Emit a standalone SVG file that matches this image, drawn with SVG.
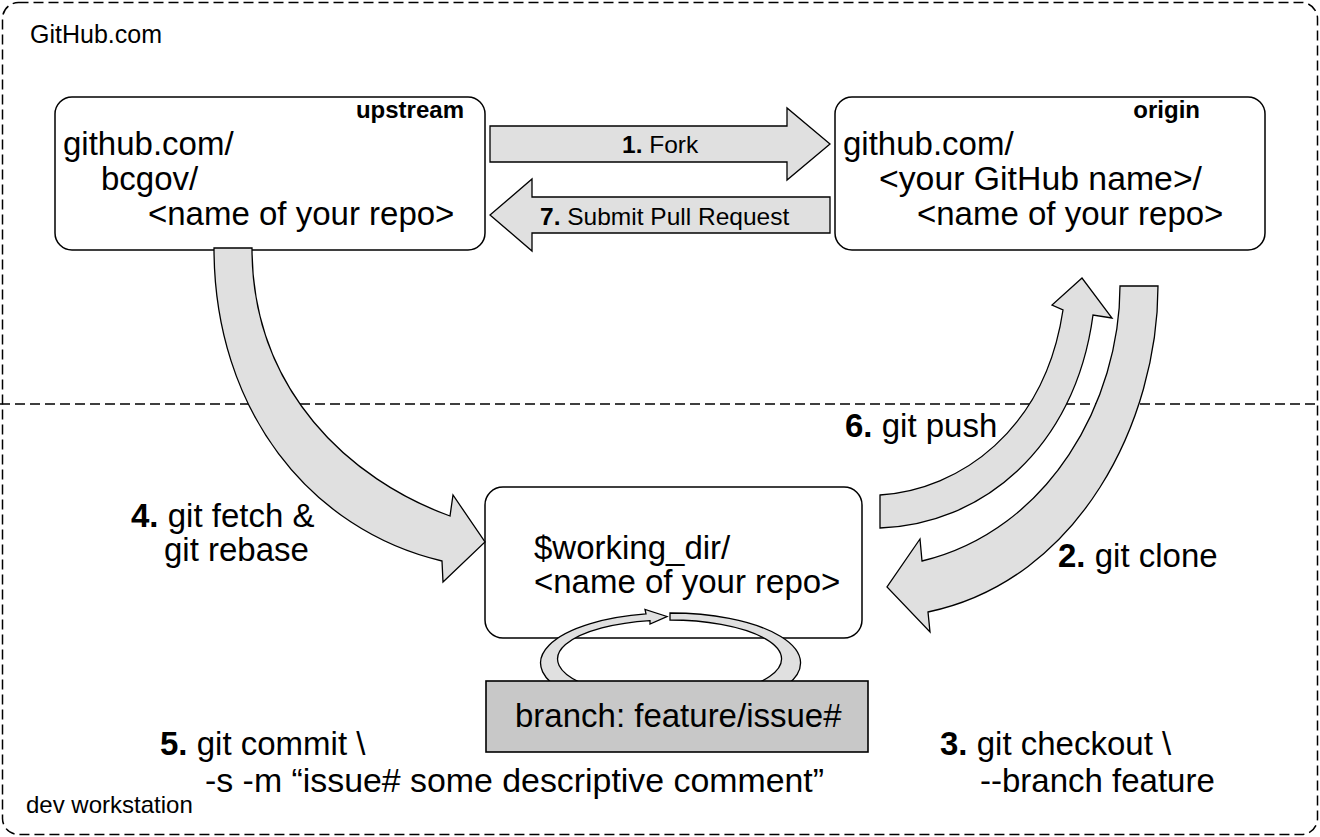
<svg xmlns="http://www.w3.org/2000/svg" width="1320" height="837" viewBox="0 0 1320 837">
<style>
text{font-family:"Liberation Sans",Arial,sans-serif;fill:#000}
.big{font-size:33px}
.lbl{font-size:24.5px}
.tag{font-size:24px;font-weight:bold}
.b{font-weight:bold}
.box{fill:#fff;stroke:#000;stroke-width:1.5}
.arr{fill:#e0e0e0;stroke:#000;stroke-width:1.3;stroke-linejoin:miter}
.dash{fill:none;stroke:#000;stroke-width:1.5;stroke-dasharray:10 5}
</style>
<rect width="1320" height="837" fill="#fff"/>
<g id="regions">
<rect class="dash" x="2.5" y="2.5" width="1315" height="832" rx="16"/>
<line class="dash" x1="0" y1="404" x2="1320" y2="404"/>
<text x="30" y="43" style="font-size:25px">GitHub.com</text>
<text x="26" y="813" style="font-size:24px">dev workstation</text>
</g>
<g id="upstream">
<rect class="box" x="55" y="97" width="430" height="153" rx="17"/>
<text class="tag" x="464" y="118" text-anchor="end">upstream</text>
<text class="big" x="63" y="155">github.com/</text>
<text class="big" x="101" y="190">bcgov/</text>
<text class="big" x="148" y="225">&lt;name of your repo&gt;</text>
</g>
<g id="origin">
<rect class="box" x="835" y="97" width="430" height="153" rx="17"/>
<text class="tag" x="1200" y="118" text-anchor="end">origin</text>
<text class="big" x="843" y="155">github.com/</text>
<text class="big" x="879" y="190" textLength="323" lengthAdjust="spacingAndGlyphs">&lt;your GitHub name&gt;/</text>
<text class="big" x="917" y="225">&lt;name of your repo&gt;</text>
</g>
<g id="working-dir">
<rect class="box" x="485" y="487" width="377" height="151" rx="18"/>
<text class="big" x="534" y="559">$working_dir/</text>
<text class="big" x="534" y="593">&lt;name of your repo&gt;</text>
</g>
<g id="connectors">
<path id="fork" class="arr" d="M490,126 L787,126 L787,108 L830,144 L787,180 L787,162 L490,162 Z"/>
<path id="pull-request" class="arr" d="M830,197 L532,197 L532,179 L490,215 L532,251 L532,233 L830,233 Z"/>
<path id="fetch-rebase" class="arr" d="M214,248 L252,248 C252,390 350,480 450,516 L453,495 L485,542 L443,582 L442,561 C310,530 214,410 214,248 Z"/>
<path id="push" class="arr" d="M880,495 C960,490 1045,430 1063,310 L1052,305 L1082,278 L1112,318 L1093,315 C1075,450 980,525 880,528 Z"/>
<path id="clone" class="arr" d="M1120,286 L1158,286 C1158,420 1080,580 928,612 L930,632 L887,587 L920,539 L922,561 C1050,530 1120,400 1120,286 Z"/>
<path id="commit-loop" class="arr" d="M670,613 A130,50 0 1 1 646,613.9 L645,609.5 L667,616.5 L650,624 L650,620.6 A112,39 0 1 0 670,620 Z"/>
</g>
<g id="branch">
<rect x="486" y="681" width="382" height="71" fill="#c8c8c8" stroke="#000" stroke-width="1.6"/>
<text class="big" x="515" y="727">branch: feature/issue#</text>
</g>
<g id="labels">
<text class="lbl" x="622" y="153"><tspan class="b">1.</tspan> Fork</text>
<text class="lbl" x="540" y="225"><tspan class="b">7.</tspan> Submit Pull Request</text>
<text class="big" x="845" y="437"><tspan class="b">6.</tspan> git push</text>
<text class="big" x="131" y="527"><tspan class="b">4.</tspan> git fetch &amp;</text>
<text class="big" x="164" y="561">git rebase</text>
<text class="big" x="1058" y="567"><tspan class="b">2.</tspan> git clone</text>
<text class="big" x="160" y="755"><tspan class="b">5.</tspan> git commit \</text>
<text class="big" x="205" y="792" textLength="619" lengthAdjust="spacingAndGlyphs">-s -m “issue# some descriptive comment”</text>
<text class="big" x="940" y="755"><tspan class="b">3.</tspan> git checkout \</text>
<text class="big" x="980" y="792">--branch feature</text>
</g>
</svg>
